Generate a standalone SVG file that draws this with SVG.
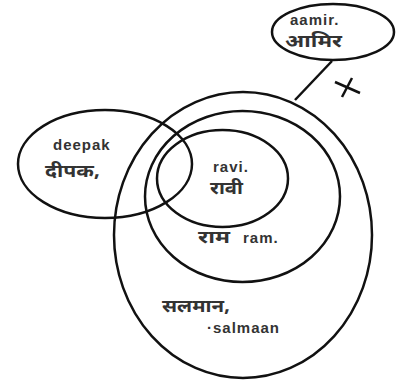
<svg xmlns="http://www.w3.org/2000/svg" width="396" height="383" viewBox="0 0 396 383">
<style>
.s{fill:none;stroke:#111;stroke-width:2.5}
.t{font-family:"Liberation Sans",Arial,sans-serif;font-weight:bold;font-size:15px;letter-spacing:1px;fill:#333}
.h{font-family:"Noto Sans Devanagari","Noto Sans","Lohit Devanagari",sans-serif;font-weight:bold;font-size:17px;fill:#333}
</style>
<rect width="396" height="383" fill="#fff"/>
<g id="salmaan">
<ellipse class="s" cx="243" cy="235" rx="129" ry="143"/>
<text class="h" x="162" y="312" textLength="68" lengthAdjust="spacingAndGlyphs">सलमान,</text>
<text class="t" x="207" y="333">·salmaan</text>
</g>
<g id="ram">
<ellipse class="s" cx="242.5" cy="196.5" rx="97.5" ry="85.5"/>
<text class="h" x="198" y="243" textLength="32" lengthAdjust="spacingAndGlyphs">राम</text>
<text class="t" x="243" y="243">ram.</text>
</g>
<g id="ravi">
<ellipse class="s" cx="222.5" cy="178.5" rx="65.5" ry="48.5"/>
<text class="t" x="213" y="172">ravi.</text>
<text class="h" x="210" y="194" textLength="33" lengthAdjust="spacingAndGlyphs">रावी</text>
</g>
<g id="deepak">
<ellipse class="s" cx="105" cy="164" rx="87" ry="54"/>
<text class="t" x="53" y="150">deepak</text>
<text class="h" x="45" y="177" textLength="55" lengthAdjust="spacingAndGlyphs">दीपक,</text>
</g>
<g id="aamir">
<ellipse class="s" cx="333" cy="32" rx="61" ry="28"/>
<text class="t" x="290" y="25">aamir.</text>
<text class="h" x="285" y="47" textLength="57" lengthAdjust="spacingAndGlyphs">आमिर</text>
</g>
<g id="connectors">
<line class="s" x1="332" y1="61" x2="295" y2="100"/>
<line class="s" x1="335" y1="82" x2="360" y2="93"/>
<line class="s" x1="352" y1="78" x2="342" y2="97"/>
</g>
</svg>
